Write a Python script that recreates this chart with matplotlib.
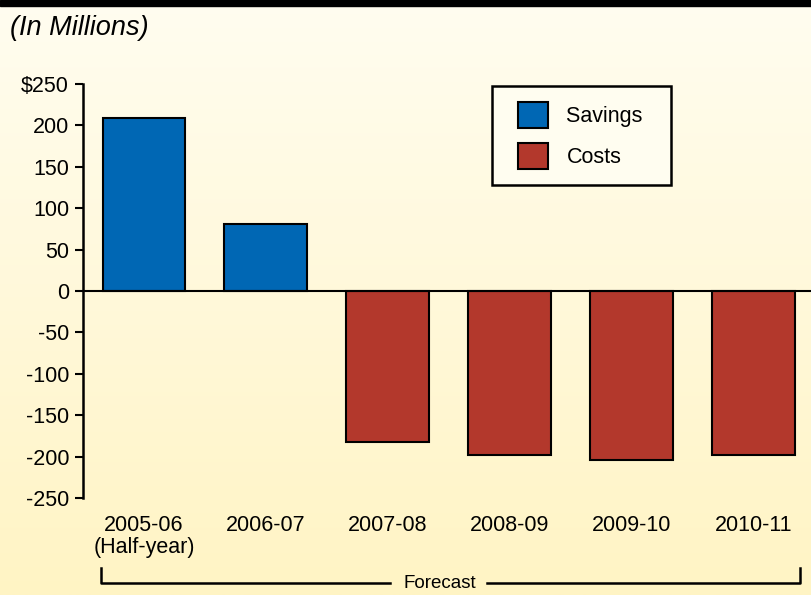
import matplotlib.pyplot as plt
import numpy as np
from matplotlib.patches import Patch, Rectangle
from matplotlib.legend_handler import HandlerPatch

plt.rcParams['font.family'] = ['Liberation Sans', 'DejaVu Sans']

# savings (+) and costs (-) per fiscal year, in millions
years = ['2005-06\n(Half-year)', '2006-07', '2007-08', '2008-09', '2009-10', '2010-11']
values = [209, 81, -182, -198, -204, -198]
yticks = [250, 200, 150, 100, 50, 0, -50, -100, -150, -200, -250]
ytick_labels = ['$250', '200', '150', '100', '50', '0', '-50', '-100', '-150', '-200', '-250']

blue = '#0067b4'
red = '#b3382c'
fs = 15.5

fig = plt.figure(figsize=(8.12, 5.95), dpi=100)

# background: cream-to-yellow gradient with a black band on top
bg = fig.add_axes([0, 0, 1, 1], zorder=-10)
grad = np.linspace(0, 1, 256)[:, None]
top_c = np.array([255, 253, 240]) / 255
bot_c = np.array([255, 244, 196]) / 255
img = top_c[None, None, :] * (1 - grad[:, :, None]) + bot_c[None, None, :] * grad[:, :, None]
bg.imshow(img, aspect='auto', extent=[0, 1, 0, 1], origin='upper')
bg.axhspan(1 - 6 / 595, 1, color='black')
bg.set_xlim(0, 1)
bg.set_ylim(0, 1)
bg.axis('off')

ax = fig.add_axes([83 / 812, 1 - 498 / 595, 1 - 83 / 812, 414 / 595])
ax.patch.set_alpha(0)

x = np.arange(len(years))
colors = [blue if v > 0 else red for v in values]
ax.bar(x, values, width=0.68, color=colors, edgecolor='black', linewidth=1.5, zorder=3)
ax.axhline(0, color='black', linewidth=1.5, zorder=4)

ax.set_xlim(-0.5, 5.48)
ax.set_ylim(-250, 250)
ax.set_yticks(yticks)
ax.set_yticklabels(ytick_labels, fontsize=fs)
ax.tick_params(axis='y', length=6, width=1.5, pad=4)
ax.set_xticks([])
for s in ['top', 'right', 'bottom']:
    ax.spines[s].set_visible(False)
ax.spines['left'].set_linewidth(1.8)

for xi, lab in zip(x, years):
    ax.text(xi, -270, lab, ha='center', va='top', fontsize=fs, linespacing=1.1)

fig.text(10 / 812, 1 - 28 / 595, '(In Millions)', fontsize=19.5, style='italic',
         ha='left', va='center')

# forecast bracket under the year labels
yb = 1 - 583 / 595
yt = 1 - 568 / 595
fx0, fx1 = 101 / 812, 800 / 812
fig.add_artist(plt.Line2D([fx0, fx0, 390 / 812], [yt, yb, yb], color='black', lw=1.8))
fig.add_artist(plt.Line2D([487 / 812, fx1, fx1], [yb, yb, yt], color='black', lw=1.8))
fig.text(440 / 812, yb, 'Forecast', fontsize=13.5, ha='center', va='center')


# legend swatch inset from the left edge of the handle box
def inset_patch(legend, orig_handle, xdescent, ydescent, width, height, fontsize):
    pad = 7.2
    return Rectangle((-xdescent + pad, -ydescent), width - pad, height)


handles = [Patch(facecolor=blue, edgecolor='black', linewidth=1.5, label='Savings  '),
           Patch(facecolor=red, edgecolor='black', linewidth=1.5, label='Costs')]
leg = fig.legend(handles=handles, loc='upper left',
                 bbox_to_anchor=(492 / 812, 1 - 86 / 595), fontsize=fs,
                 frameon=True, fancybox=False, edgecolor='black', framealpha=1,
                 facecolor='#fffdf0', handlelength=1.86, handleheight=1.45,
                 handletextpad=0.85, borderpad=0.75, labelspacing=0.72,
                 borderaxespad=0,
                 handler_map={Patch: HandlerPatch(patch_func=inset_patch)})
leg.get_frame().set_linewidth(1.8)

fig.savefig('out.png', dpi=100)
